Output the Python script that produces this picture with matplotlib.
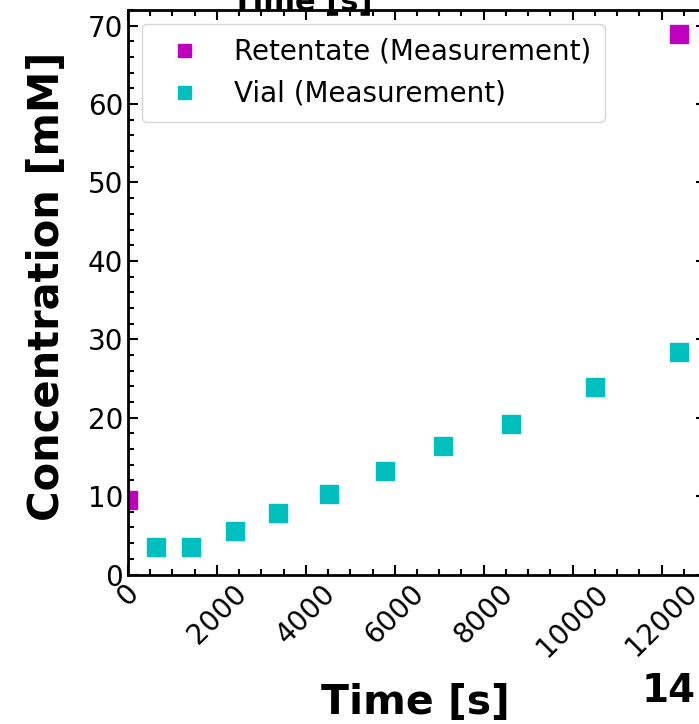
import numpy as np
import matplotlib
matplotlib.use("Agg")
import matplotlib.pyplot as plt
from matplotlib.ticker import MultipleLocator

# ===================== data =====================
ret_time = [0, 12390]
ret_conc = [9.5, 68.9]

vial_time = [620, 1416, 2404, 3380, 4525, 5775, 7080, 8615, 10500, 12390]
vial_conc = [3.45, 3.45, 5.5, 7.8, 10.3, 13.2, 16.4, 19.2, 23.9, 28.4]

ret_label = "Retentate (Measurement)"
vial_label = "Vial (Measurement)"

# ===================== figure =====================
W, H = 699, 724
fig = plt.figure(figsize=(W / 100, H / 100), dpi=100)
# axes runs a bit past the right edge (the reference is a crop of a bigger figure)
ax = fig.add_axes([128 / W, (H - 574.5) / H, (706 - 128) / W, (574.5 - 10) / H])

ax.plot(ret_time, ret_conc, 's', color='m', markersize=13, label=ret_label)
ax.plot(vial_time, vial_conc, 's', color='c', markersize=13, label=vial_label)

ax.set_xlim(0, 13000)
ax.set_ylim(0, 72)
ax.xaxis.set_major_locator(MultipleLocator(2000))
ax.xaxis.set_minor_locator(MultipleLocator(500))
ax.yaxis.set_major_locator(MultipleLocator(10))
ax.yaxis.set_minor_locator(MultipleLocator(2))

ax.tick_params(which='both', direction='in', top=True, right=True, width=1.5)
ax.tick_params(which='major', length=7, labelsize=20)
ax.tick_params(which='minor', length=4)
for s in ax.spines.values():
    s.set_linewidth(2)
plt.setp(ax.get_xticklabels(), rotation=45)

ax.set_ylabel("Concentration [mM]", fontsize=30, fontweight='bold')
ax.yaxis.set_label_coords(-0.103, 0.511)
ax.set_xlabel("Time [s]", fontsize=29.5, fontweight='bold')
ax.xaxis.set_label_coords(0.498, -0.192)

ax.legend(loc='upper left', fontsize=20, markerscale=0.72, handletextpad=0.8,
          borderpad=0.5, framealpha=0.8)

# cut-off text from neighbouring panels
fig.text(302 / W, 1 - 10 / H, "Time [s]", fontsize=22, fontweight='bold',
         ha='center', va='baseline')
fig.text(669 / W, 1 - 691 / H, "14", fontsize=28, fontweight='bold',
         ha='center', va='center')

fig.savefig("out.png", dpi=100)
